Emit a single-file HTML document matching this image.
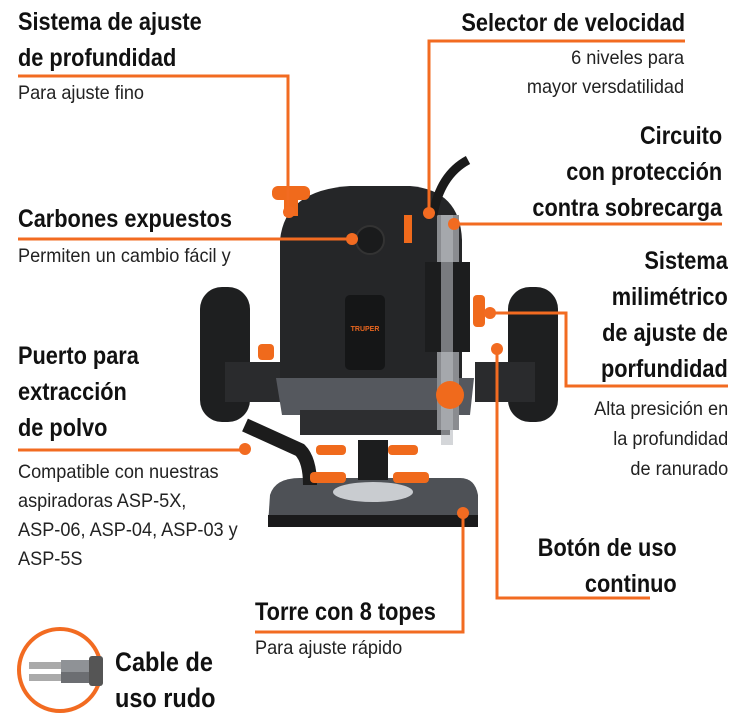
<!DOCTYPE html>
<html><head><meta charset="utf-8"><style>
body{margin:0;width:750px;height:720px;background:#fff;position:relative;overflow:hidden;font-family:"Liberation Sans",sans-serif;color:#111}
.t{position:absolute;font-weight:bold;font-size:25px;line-height:36px;white-space:nowrap;transform:scaleX(0.87);transform-origin:left top}
.s{position:absolute;font-size:19.5px;line-height:27px;white-space:nowrap;color:#222;transform:scaleX(0.93);transform-origin:left top}
.r{text-align:right;transform-origin:right top}
svg{position:absolute;left:0;top:0}
</style></head><body>
<svg width="750" height="720" viewBox="0 0 750 720">
<g>
<rect x="200" y="287" width="50" height="135" rx="22" fill="#1e1f20"/>
<rect x="508" y="287" width="50" height="135" rx="22" fill="#1e1f20"/>
<rect x="225" y="362" width="60" height="40" fill="#2a2b2d"/>
<rect x="475" y="362" width="60" height="40" fill="#2a2b2d"/>
<path d="M280 240 Q285 190 350 186 L410 186 Q460 190 462 240 L462 380 L280 380 Z" fill="#252628"/>
<rect x="345" y="295" width="40" height="75" rx="5" fill="#151617"/>
<text x="365" y="331" font-size="7" fill="#e8661f" font-family="Liberation Sans" font-weight="bold" text-anchor="middle">TRUPER</text>
<circle cx="370" cy="240" r="14" fill="#1a1b1c" stroke="#333" stroke-width="2"/>
<path d="M276 378 L474 378 L470 415 L282 415 Z" fill="#55585e"/>
<rect x="300" y="410" width="150" height="25" fill="#2d2e30"/>
<rect x="437" y="215" width="22" height="215" fill="#8a8c90"/>
<rect x="425" y="262" width="45" height="90" fill="#1c1d1e"/>
<rect x="441" y="215" width="12" height="230" fill="#b8bbc0" opacity=".6"/>
<path d="M433 215 Q440 175 468 160" stroke="#1a1a1a" stroke-width="9" fill="none"/>
<path d="M270 495 Q275 478 300 478 L460 478 Q475 478 478 495 L478 525 L268 525 Z" fill="#4e5156"/>
<rect x="268" y="515" width="210" height="12" fill="#1a1a1b"/>
<ellipse cx="373" cy="492" rx="40" ry="10" fill="#c9ccd0"/>
<rect x="358" y="440" width="30" height="40" fill="#1c1d1e"/>
<path d="M245 425 L300 450 Q310 460 310 485" stroke="#1c1c1c" stroke-width="14" fill="none"/>
<g fill="#f06a1c">
<rect x="272" y="186" width="38" height="14" rx="6"/><rect x="284" y="196" width="14" height="20"/>
<rect x="404" y="215" width="8" height="28"/>
<rect x="258" y="344" width="16" height="16" rx="4"/>
<rect x="473" y="295" width="12" height="32" rx="4"/>
<circle cx="450" cy="395" r="14"/>
<rect x="316" y="445" width="30" height="10" rx="4"/><rect x="388" y="445" width="30" height="10" rx="4"/>
<rect x="310" y="472" width="36" height="11" rx="4"/><rect x="393" y="472" width="36" height="11" rx="4"/>
</g>
</g>
<g stroke="#f26b21" stroke-width="3" fill="none">
<path d="M18 76 H288 V212"/>
<path d="M685 41 H429 V213"/>
<path d="M454 224 H722"/>
<path d="M18 239 H352"/>
<path d="M490 313 H566 V386 H728"/>
<path d="M497 349 V598 H650"/>
<path d="M18 450 H245"/>
<path d="M463 513 V632 H255"/>
</g>
<g fill="#f26b21">
<circle cx="289" cy="212" r="6"/><circle cx="429" cy="213" r="6"/><circle cx="454" cy="224" r="6"/>
<circle cx="352" cy="239" r="6"/><circle cx="490" cy="313" r="6"/><circle cx="497" cy="349" r="6"/>
<circle cx="245" cy="449" r="6"/><circle cx="463" cy="513" r="6"/>
</g>
<circle cx="60" cy="670" r="41" fill="none" stroke="#f26b21" stroke-width="4"/>
<rect x="29" y="662" width="33" height="7" fill="#aaa"/><rect x="29" y="674" width="33" height="7" fill="#aaa"/>
<rect x="61" y="660" width="30" height="12" fill="#8f9296"/><rect x="61" y="672" width="30" height="11" fill="#6c6e72"/>
<rect x="89" y="656" width="14" height="30" rx="3" fill="#555"/>
</svg>
<div class="t" style="left:18px;top:4px">Sistema de ajuste<br>de profundidad</div>
<div class="s" style="left:18px;top:80px">Para ajuste fino</div>
<div class="t r" style="right:65px;top:5px">Selector de velocidad</div>
<div class="s r" style="right:66px;top:44px;line-height:29px">6 niveles para<br>mayor versdatilidad</div>
<div class="t r" style="right:28px;top:118px">Circuito<br>con protección<br>contra sobrecarga</div>
<div class="t" style="left:18px;top:201px">Carbones expuestos</div>
<div class="s" style="left:18px;top:243px">Permiten un cambio fácil y</div>
<div class="t r" style="right:22px;top:243px">Sistema<br>milimétrico<br>de ajuste de<br>porfundidad</div>
<div class="s r" style="right:22px;top:394px;line-height:30px">Alta presición en<br>la profundidad<br>de ranurado</div>
<div class="t" style="left:18px;top:338px">Puerto para<br>extracción<br>de polvo</div>
<div class="s" style="left:18px;top:458px;line-height:29px">Compatible con nuestras<br>aspiradoras ASP-5X,<br>ASP-06, ASP-04, ASP-03 y<br>ASP-5S</div>
<div class="t r" style="right:73px;top:530px">Botón de uso<br>continuo</div>
<div class="t" style="left:255px;top:594px">Torre con 8 topes</div>
<div class="s" style="left:255px;top:635px">Para ajuste rápido</div>
<div class="t" style="left:115px;top:644px;font-size:27px">Cable de<br>uso rudo</div>
</body></html>
